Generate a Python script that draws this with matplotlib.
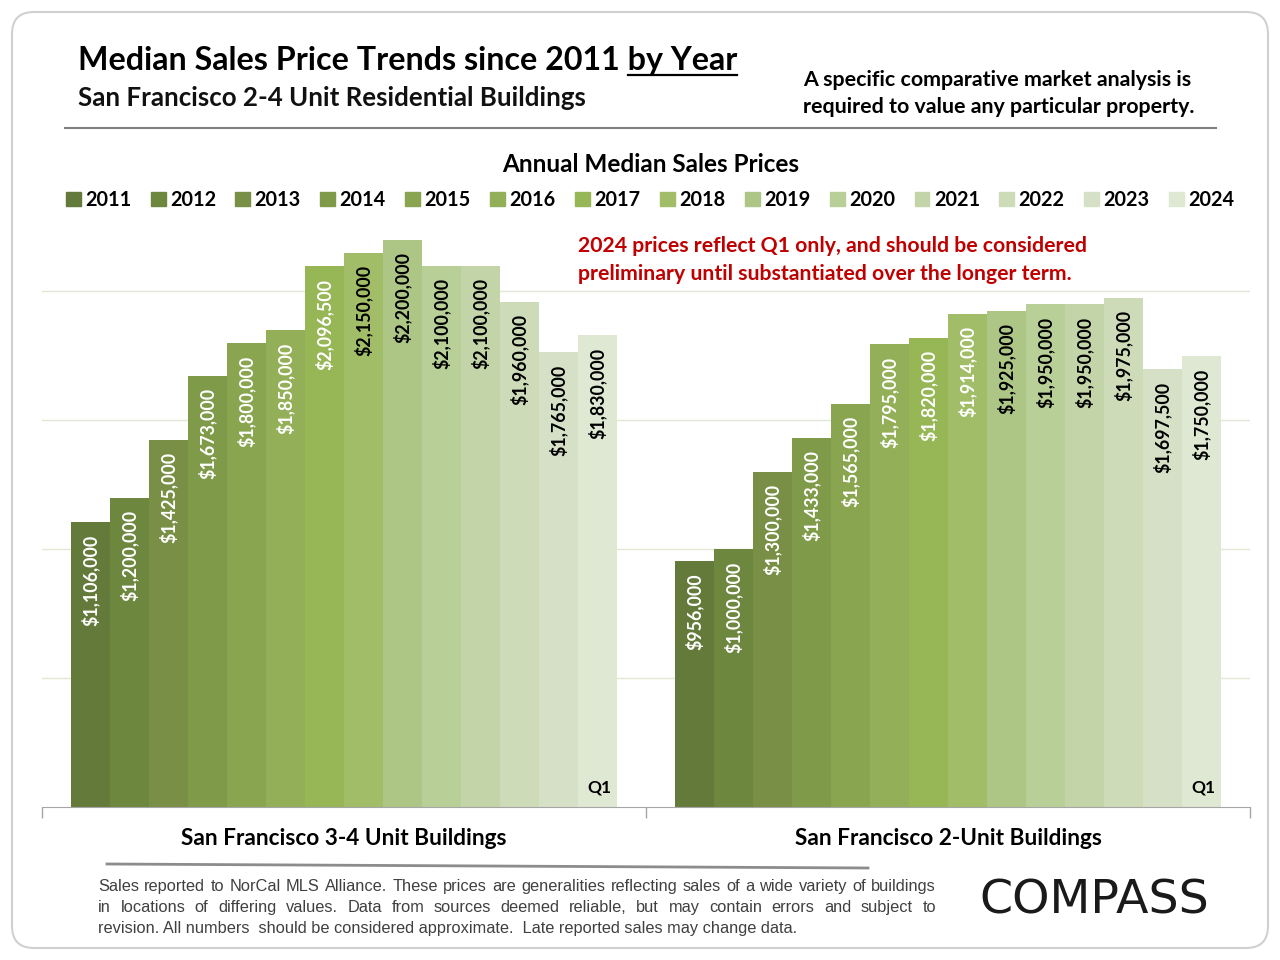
import numpy as np
import matplotlib.pyplot as plt
from matplotlib.patches import FancyBboxPatch, Patch

# data
years = ['2011', '2012', '2013', '2014', '2015', '2016', '2017',
         '2018', '2019', '2020', '2021', '2022', '2023', '2024']
groups = ['San Francisco 3-4 Unit Buildings', 'San Francisco 2-Unit Buildings']
sf_34 = [1106000, 1200000, 1425000, 1673000, 1800000, 1850000, 2096500,
         2150000, 2200000, 2100000, 2100000, 1960000, 1765000, 1830000]
sf_2 = [956000, 1000000, 1300000, 1433000, 1565000, 1795000, 1820000,
        1914000, 1925000, 1950000, 1950000, 1975000, 1697500, 1750000]
bar_colors = ['#647A3A', '#6E873F', '#788F45', '#7F9A49', '#89A550', '#93B058', '#97B656',
              '#A2BD68', '#ADC685', '#B8CF97', '#C3D4A8', '#CEDBB8', '#D6E0C6', '#DFE8D3']
n_white = [7, 8]   # how many labels are white in each group

FONT = 'Lato'
FOOT = 'Liberation Sans'

fig = plt.figure(figsize=(12.8, 9.6), dpi=100)

# background axes in pixel coordinates
bg = fig.add_axes([0, 0, 1, 1])
bg.set_xlim(0, 1280)
bg.set_ylim(960, 0)
bg.axis('off')

bg.add_patch(FancyBboxPatch((12, 12), 1256, 936, boxstyle='round,pad=0,rounding_size=22',
                            fc='white', ec='#D0D0D0', lw=1.5))

title = bg.text(78, 70, 'Median Sales Price Trends since 2011 by Year', fontsize=23.2,
                fontweight='bold', family=FONT, color='black')
bg.text(78, 106, 'San Francisco 2-4 Unit Residential Buildings', fontsize=18.6,
        fontweight='bold', family=FONT, color='#111111')
bg.text(803, 86, 'A specific comparative market analysis is', fontsize=15.4,
        fontweight='bold', family=FONT)
bg.text(803, 113, 'required to value any particular property.', fontsize=15.4,
        fontweight='bold', family=FONT)
bg.plot([65, 1216], [128, 128], color='#7F7F7F', lw=1.5)

bg.text(651, 172, 'Annual Median Sales Prices', fontsize=17.5, fontweight='bold',
        family=FONT, ha='center')

bg.text(578, 252, '2024 prices reflect Q1 only, and should be considered', fontsize=15.3,
        fontweight='bold', family=FONT, color='#C00000')
bg.text(578, 280, 'preliminary until substantiated over the longer term.', fontsize=15.3,
        fontweight='bold', family=FONT, color='#C00000')

# footer
bg.plot([107, 868], [864, 868], color='#8C8C8C', lw=2)
footer = [
    'Sales reported to NorCal MLS Alliance. These prices are generalities reflecting sales of a wide variety of buildings',
    'in locations of differing values. Data from sources deemed reliable, but may contain errors and subject to',
    'revision. All numbers  should be considered approximate.  Late reported sales may change data.',
]
bg.text(1094, 914, 'COMPASS', fontsize=34.2, family='DejaVu Sans', ha='center', color='#1A1A1A')

# plot axes
ax = fig.add_axes([42 / 1280, 1 - 807 / 960, 1208 / 1280, (807 - 214) / 960])
ax.set_facecolor('none')
ax.set_xlim(-0.5, 1.5)
ax.set_ylim(0, 2.3e6)

w = 0.0645
pos = np.arange(len(groups))
for i, yr in enumerate(years):
    xs = pos + (i - 6.5) * w
    vals = [sf_34[i], sf_2[i]]
    ax.bar(xs, vals, width=w, color=bar_colors[i], label=yr, zorder=2)
    for g in range(2):
        c = 'white' if i < n_white[g] else 'black'
        ax.annotate('${:,.0f}'.format(vals[g]), (xs[g], vals[g]), xytext=(0, -9),
                    textcoords='offset points', rotation=90, ha='center', va='top',
                    fontsize=12.8, fontweight='bold', family=FONT, color=c, zorder=3)
    if yr == '2024':
        for g in range(2):
            ax.text(xs[g] + 0.003, 0.045e6, 'Q1', ha='center', va='bottom', fontsize=12.5,
                    fontweight='bold', family=FONT, zorder=3)

ax.set_yticks([0.5e6, 1.0e6, 1.5e6, 2.0e6])
ax.yaxis.grid(True, color='#E2E8D5', lw=1)
ax.set_axisbelow(True)
ax.tick_params(axis='y', left=False, labelleft=False)
for s in ['top', 'left', 'right']:
    ax.spines[s].set_visible(False)
ax.spines['bottom'].set_color('#A6A6A6')
ax.set_xticks(pos)
ax.set_xticklabels(groups, fontsize=16.3, fontweight='bold', family=FONT)
ax.set_xticks([-0.5, 0.5, 1.5], minor=True)
ax.tick_params(axis='x', which='major', length=0, pad=15)
ax.tick_params(axis='x', which='minor', length=8, color='#A6A6A6', width=1)

handles = [Patch(color=c) for c in bar_colors]
fig.legend(handles, years, ncol=14, loc='center', bbox_to_anchor=(650 / 1280, 1 - 200 / 960),
           frameon=False, prop={'family': FONT, 'weight': 'bold', 'size': 14.3},
           handlelength=0.75, handleheight=0.75, handletextpad=0.22, columnspacing=0.98)

# underline "by Year" and justify the footer
r = fig.canvas.get_renderer()
inv = bg.transData.inverted()
tb = title.get_window_extent(r)
tmp = bg.text(0, 0, 'by Year', fontsize=23.2, fontweight='bold', family=FONT)
wb = tmp.get_window_extent(r).width
tmp.remove()
x_end = inv.transform((tb.x1, tb.y0))[0]
bg.plot([x_end - wb, x_end], [75, 75], color='black', lw=1.6)

fy = [891, 912, 933]
fs_foot = 11.8
for k, line in enumerate(footer):
    if k == 2:
        bg.text(98, fy[k], line, fontsize=fs_foot, family=FOOT, color='#404040')
        continue
    words = line.split()
    arts = [bg.text(0, fy[k], wd, fontsize=fs_foot, family=FOOT, color='#404040') for wd in words]
    widths = [a.get_window_extent(r).width for a in arts]
    gap = (936 - 98 - sum(widths)) / (len(words) - 1)
    x = 98
    for a, wd in zip(arts, widths):
        a.set_x(x)
        x += wd + gap

fig.savefig('out.png', dpi=100)
